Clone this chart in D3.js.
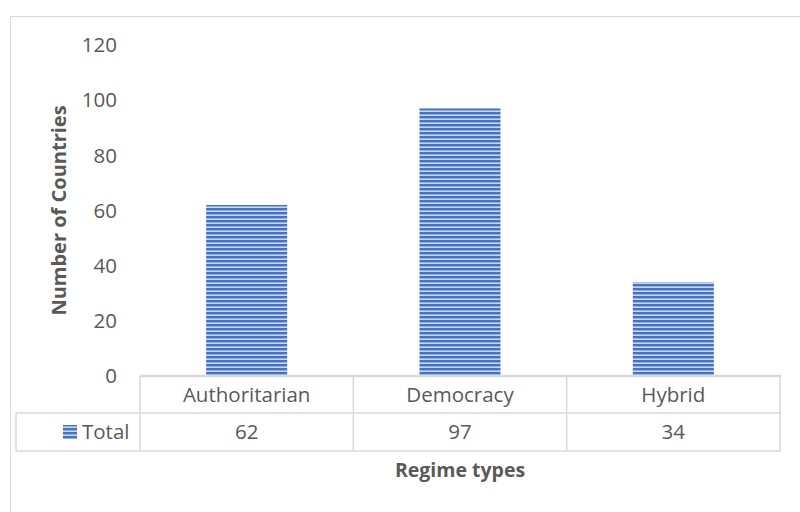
<!DOCTYPE html>
<html lang="en">
<head>
    <meta charset="UTF-8">
    <title>Regime types</title>
    <script src="https://d3js.org/d3.v7.min.js"></script>
    <style>
        html, body { margin: 0; background: #fff; overflow: hidden; }
        text { font-family: "Open Sans", "Noto Sans", sans-serif; fill: #595959; }
    </style>
</head>
<body>
    <svg id="svg"></svg>
    <script>
        const categories = ['Authoritarian', 'Democracy', 'Hybrid'];
        const totals = [62, 97, 34];
        const yTicks = [0, 20, 40, 60, 80, 100, 120];
        const seriesName = 'Total';

        const width = 800, height = 512;
        const svg = d3.select('#svg').attr('width', width).attr('height', height);

        const plotLeft = 140, plotRight = 780, plotTop = 45, base = 376;
        const row1 = 413, row2 = 451, legendLeft = 16;

        // striped fill like the office chart
        const defs = svg.append('defs');
        const pat = defs.append('pattern').attr('id', 'stripes')
            .attr('patternUnits', 'userSpaceOnUse').attr('width', 8).attr('height', 4);
        pat.append('rect').attr('width', 8).attr('height', 4).attr('fill', '#4472c4');
        pat.append('rect').attr('y', 2.4).attr('width', 8).attr('height', 1.6).attr('fill', '#c9d6ef');

        // outer frame
        svg.append('rect').attr('x', 10.5).attr('y', 16.5).attr('width', 800).attr('height', 520)
            .attr('fill', 'none').attr('stroke', '#d9d9d9');

        const x = d3.scaleBand().domain(categories).range([plotLeft, plotRight]).paddingInner(0).paddingOuter(0);
        const y = d3.scaleLinear().domain([0, 120]).range([base, plotTop]);

        const g = svg.append('g');

        // y tick labels
        g.selectAll('.ytick').data(yTicks).join('text')
            .attr('class', 'ytick')
            .attr('x', 117).attr('y', d => y(d))
            .attr('dy', '0.35em').attr('text-anchor', 'end')
            .attr('font-size', 20.5)
            .text(d => d);

        // bars
        const bw = x.bandwidth() * 0.38;
        g.selectAll('.bar').data(totals).join('rect')
            .attr('class', 'bar')
            .attr('x', (d, i) => x(categories[i]) + (x.bandwidth() - bw) / 2)
            .attr('y', d => y(d))
            .attr('width', bw)
            .attr('height', d => base - y(d))
            .attr('fill', 'url(#stripes)');

        // data table
        const grid = '#d9d9d9';
        const lines = svg.append('g').attr('stroke', grid).attr('stroke-width', 1.5).attr('fill', 'none');
        lines.append('line').attr('x1', plotLeft).attr('x2', plotRight + 1).attr('y1', base).attr('y2', base).attr('stroke-width', 2.5);
        lines.append('line').attr('x1', legendLeft).attr('x2', plotRight + 1).attr('y1', row1).attr('y2', row1);
        lines.append('line').attr('x1', legendLeft).attr('x2', plotRight + 1).attr('y1', row2).attr('y2', row2);
        lines.append('line').attr('x1', legendLeft).attr('x2', legendLeft).attr('y1', row1).attr('y2', row2);
        const vx = categories.map(c => x(c)).concat([plotRight]);
        lines.selectAll('.v').data(vx).join('line')
            .attr('x1', d => d).attr('x2', d => d)
            .attr('y1', base).attr('y2', row2);

        g.selectAll('.cat').data(categories).join('text')
            .attr('class', 'cat')
            .attr('x', d => x(d) + x.bandwidth() / 2).attr('y', (base + row1) / 2)
            .attr('dy', '0.35em').attr('text-anchor', 'middle').attr('font-size', 20.5)
            .text(d => d);

        g.selectAll('.val').data(totals).join('text')
            .attr('class', 'val')
            .attr('x', (d, i) => x(categories[i]) + x.bandwidth() / 2).attr('y', (row1 + row2) / 2)
            .attr('dy', '0.35em').attr('text-anchor', 'middle').attr('font-size', 20.5)
            .text(d => d);

        // legend cell
        g.append('rect').attr('x', 63).attr('y', (row1 + row2) / 2 - 7)
            .attr('width', 14).attr('height', 14).attr('fill', 'url(#stripes)');
        g.append('text').attr('x', 82).attr('y', (row1 + row2) / 2)
            .attr('dy', '0.35em').attr('font-size', 20.5).text(seriesName);

        // axis titles
        g.append('text')
            .attr('transform', `translate(66, ${(plotTop + base) / 2}) rotate(-90)`)
            .attr('text-anchor', 'middle').attr('font-size', 20).attr('font-weight', 'bold')
            .text('Number of Countries');
        g.append('text')
            .attr('x', (plotLeft + plotRight) / 2).attr('y', 470).attr('dy', '0.35em')
            .attr('text-anchor', 'middle').attr('font-size', 19.5).attr('font-weight', 'bold')
            .text('Regime types');
    </script>
</body>
</html>
